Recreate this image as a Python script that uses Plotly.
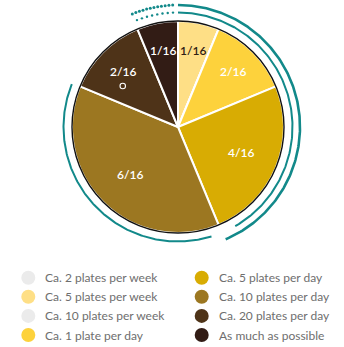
import numpy as np
import plotly.graph_objects as go

# Portion of respondents per consumption level, in sixteenths
categories = [
    "Ca. 2 plates per week", "Ca. 5 plates per week", "Ca. 10 plates per week",
    "Ca. 1 plate per day", "Ca. 5 plates per day", "Ca. 10 plates per day",
    "Ca. 20 plates per day", "As much as possible",
]
shares = [0, 1, 0, 2, 4, 6, 2, 1]
total = 16
slice_colors = ["#EBEBEB", "#FEDF86", "#EBEBEB", "#FDD23C",
                "#D8AC03", "#9C7721", "#4E3318", "#321C15"]
text_colors = ["#FFFFFF", "#2E2014", "#FFFFFF", "#FFFFFF",
               "#FFFFFF", "#FFFFFF", "#FFFFFF", "#FFFFFF"]

# Canvas in pixel units
W, H = 344, 347
CX, CY, R = 178, 127, 106
TEAL = "#12898A"
FONT = "Lato"

fig = go.Figure()

fig.add_trace(go.Pie(
    labels=categories, values=shares, sort=False, direction="clockwise",
    rotation=0, marker=dict(colors=slice_colors, line=dict(color="white", width=2)),
    textinfo="none", hoverinfo="label+value", showlegend=False,
    domain=dict(x=[(CX - R) / W, (CX + R) / W], y=[1 - (CY + R) / H, 1 - (CY - R) / H]),
))


def arc(r, a0, a1, n=200):
    t = np.radians(np.linspace(a0, a1, n))
    return CX + r * np.sin(t), CY - r * np.cos(t)


# Decorative rings around the pie
for r, a0, a1, w in [(122, 0, 157, 2.6), (114.5, 0, 150, 2.0), (114.5, 163, 292, 2.0)]:
    x, y = arc(r, a0, a1)
    fig.add_trace(go.Scatter(x=x, y=y, mode="lines", line=dict(color=TEAL, width=w),
                             hoverinfo="skip", showlegend=False))
for r, a0, n, s in [(122, -22, 12, 3.0), (114.5, -21, 8, 2.4)]:
    x, y = arc(r, a0, -2.5, n)
    fig.add_trace(go.Scatter(x=x, y=y, mode="markers", marker=dict(color=TEAL, size=s),
                             hoverinfo="skip", showlegend=False))

shapes = [dict(type="circle", xref="x", yref="y", x0=CX - R, x1=CX + R, y0=CY - R, y1=CY + R,
               line=dict(color="#111111", width=1.4), layer="above")]

# Slice labels
annotations = []
cum = 0
for v, tc in zip(shares, text_colors):
    if v:
        mid = np.radians((cum + v / 2) / total * 360)
        rl = R * (0.74 if v <= 2 else 0.64)
        annotations.append(dict(
            x=CX + rl * np.sin(mid), y=CY - rl * np.cos(mid), xref="x", yref="y",
            text=f"{v}/{total}", showarrow=False,
            font=dict(family=FONT, size=12, color=tc, weight=600)))
    cum += v

# Small ring marker under the "20 plates per day" label
shapes.append(dict(type="circle", xref="x", yref="y", x0=120, x1=125.5, y0=83.2, y1=88.7,
                   line=dict(color="white", width=1.1), layer="above"))

# Two-column legend
lx, ly, col_gap, row_gap = 28.3, 277.7, 173.4, 19.1
leg_x = [lx + (i // 4) * col_gap for i in range(len(categories))]
leg_y = [ly + (i % 4) * row_gap for i in range(len(categories))]
fig.add_trace(go.Scatter(x=leg_x, y=leg_y, mode="markers",
                         marker=dict(color=slice_colors, size=14, line=dict(width=0)),
                         hoverinfo="skip", showlegend=False))
for name, x, y in zip(categories, leg_x, leg_y):
    annotations.append(dict(x=x + 15, y=y, xref="x", yref="y", text=name, showarrow=False,
                            xanchor="left", font=dict(family=FONT, size=12, color="#6E6E6E")))

fig.update_layout(
    width=W, height=H, margin=dict(l=0, r=0, t=0, b=0),
    paper_bgcolor="white", plot_bgcolor="white",
    xaxis=dict(range=[0, W], visible=False, fixedrange=True),
    yaxis=dict(range=[H, 0], visible=False, fixedrange=True),
    shapes=shapes, annotations=annotations,
)

fig.write_html("out.html")
